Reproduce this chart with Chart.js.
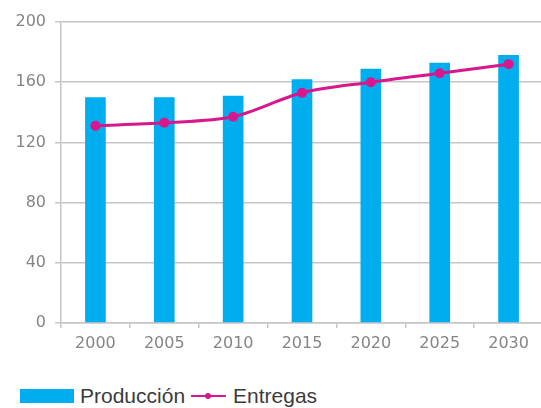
<!DOCTYPE html>
<html>
<head>
<meta charset="utf-8">
<script src="https://cdn.jsdelivr.net/npm/chart.js@4/dist/chart.umd.min.js"></script>
<style>
  html, body { margin: 0; padding: 0; background: #fff; overflow: hidden; width: 541px; height: 408px; }
  #wrap { position: absolute; left: 0; top: 0; width: 548px; height: 372px; }
  #legend { position: absolute; left: 20px; top: 384px; display: flex; align-items: center;
            font-family: "Liberation Sans", Arial, sans-serif; font-size: 21px; color: #3c3c3c; white-space: nowrap; }
  .swatch { width: 54px; height: 14px; background: #00aeef; margin-right: 6px; }
  .lineKey { position: relative; width: 35px; height: 2px; background: #d8178c; margin: 0 7px 0 6px; }
  .lineKey::after { content: ''; position: absolute; left: 14px; top: -2px; width: 6px; height: 6px; border-radius: 50%; background: #d8178c; }
</style>
</head>
<body>
<div id="wrap"><canvas id="myChart" width="548" height="372"></canvas></div>
<div id="legend">
  <div class="swatch"></div><span>Producción</span>
  <div class="lineKey"></div><span>Entregas</span>
</div>
<script>
const years = ['2000', '2005', '2010', '2015', '2020', '2025', '2030'];
const produccion = [150, 150, 151, 162, 169, 173, 178];
const entregas = [131, 133, 137, 153, 160, 166, 172];
const yTicks = [0, 40, 80, 120, 160, 200];

const gray = '#c6c6c6';
const tickFont = { family: 'DejaVu Sans', size: 16 };

function drawChart() {
    try {
        const ctx = document.getElementById('myChart').getContext('2d');
        new Chart(ctx, {
            data: {
                labels: years,
                datasets: [
                    {
                        type: 'line',
                        label: 'Entregas',
                        data: entregas,
                        borderColor: '#d8178c',
                        backgroundColor: '#d8178c',
                        borderWidth: 3,
                        tension: 0.3,
                        pointRadius: 5,
                        pointBorderWidth: 0,
                        order: 0
                    },
                    {
                        type: 'bar',
                        label: 'Producción',
                        data: produccion,
                        backgroundColor: '#00aeef',
                        barPercentage: 0.3,
                        categoryPercentage: 1,
                        order: 1
                    }
                ]
            },
            options: {
                responsive: false,
                animation: false,
                layout: { padding: { top: 22, right: 1, left: 0, bottom: 0 } },
                plugins: { legend: { display: false }, tooltip: { enabled: false } },
                scales: {
                    x: {
                        offset: true,
                        grid: { drawOnChartArea: false, drawTicks: true, tickLength: 5, color: gray, lineWidth: 1.5, offset: true },
                        border: { color: gray, width: 1.5 },
                        ticks: { font: tickFont, color: '#858585', padding: 6, maxRotation: 0 },
                        afterFit: s => { s.height = 372 - 323; }
                    },
                    y: {
                        min: 0,
                        max: 200,
                        afterBuildTicks: s => { s.ticks = yTicks.map(v => ({ value: v })); },
                        grid: { color: gray, lineWidth: 1.5, tickLength: 6 },
                        border: { color: gray, width: 1.5 },
                        ticks: { font: tickFont, color: '#858585', padding: 9 },
                        afterFit: s => { s.width = 61; }
                    }
                }
            }
        });
    } catch (error) {
        console.error('Error in drawChart:', error);
    }
}

drawChart();
</script>
</body>
</html>
